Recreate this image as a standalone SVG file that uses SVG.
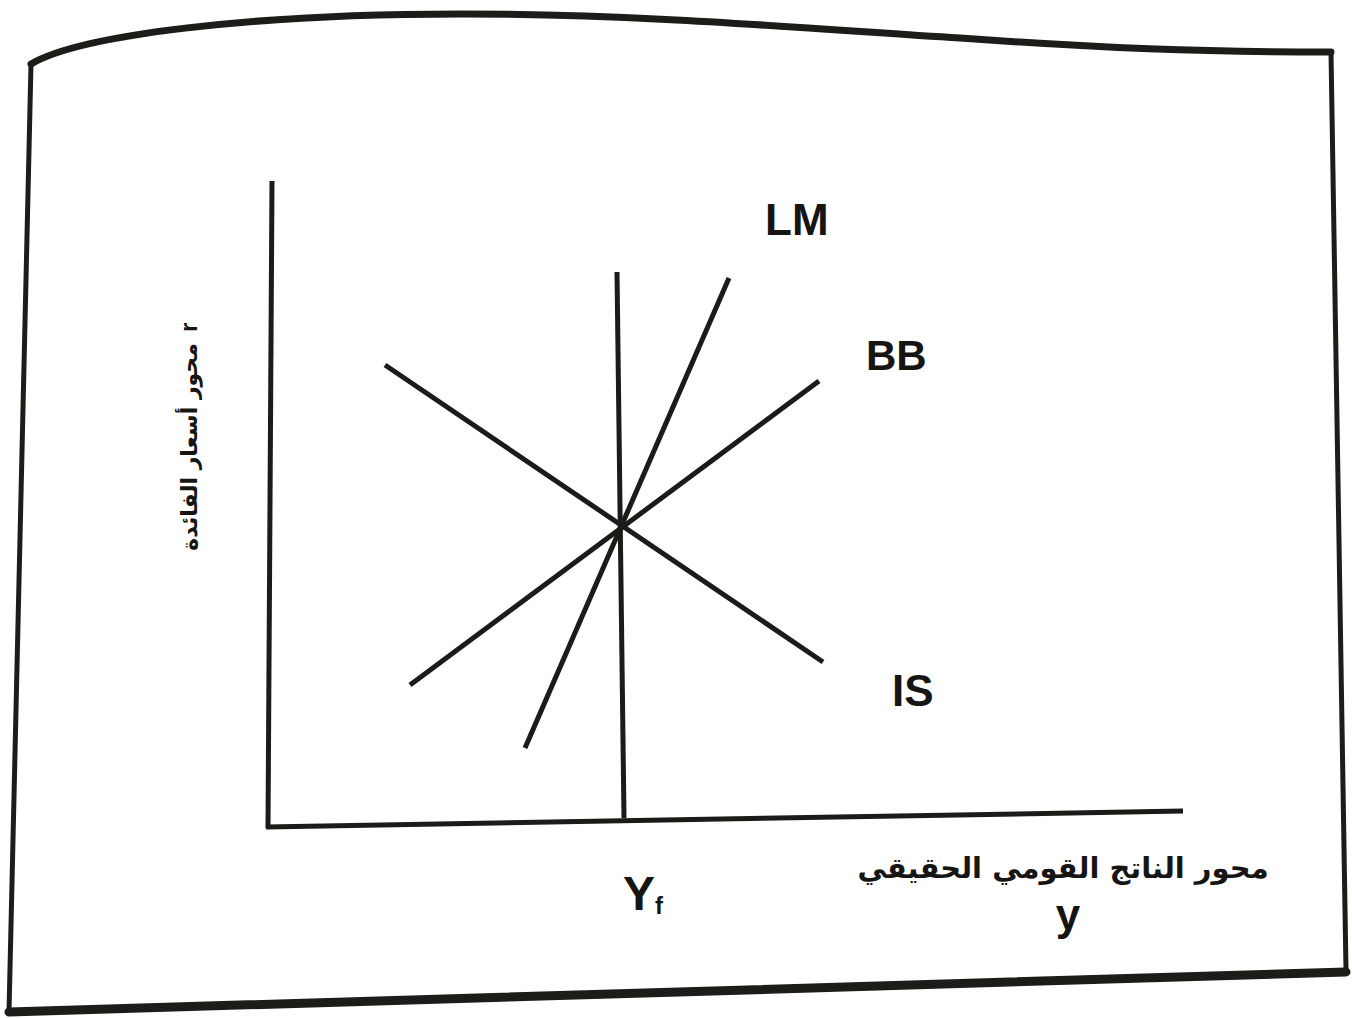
<svg xmlns="http://www.w3.org/2000/svg" width="1352" height="1018" viewBox="0 0 1352 1018">
<style>
.frame{fill:none;stroke:#1c1d18;stroke-linecap:round;stroke-linejoin:round}
.ln{stroke:#1c1b17;stroke-width:5;stroke-linecap:butt;fill:none}
.lbl{font-family:"Liberation Sans",Arial,sans-serif;font-weight:bold;fill:#161513}
.ar{font-family:"DejaVu Sans",sans-serif;font-weight:bold;fill:#161513}
</style>
<rect width="1352" height="1018" fill="#ffffff"/>
<g id="frame">
<path class="frame" stroke-width="7" d="M31,64 C80,35 250,14 460,14 C640,14 800,28 960,38 C1100,48 1200,52 1331,52"/>
<path class="frame" stroke-width="5" d="M31,64 L9,1012"/>
<path class="frame" stroke-width="5" d="M1331,52 L1346,970"/>
<path class="frame" stroke-width="9" d="M9,1012 L1346,972"/>
</g>
<g id="axes">
<line class="ln" x1="272" y1="181" x2="268" y2="828"/>
<line class="ln" x1="266" y1="827" x2="1183" y2="811"/>
</g>
<g id="connectors">
<line id="Yf-line" class="ln" x1="617" y1="272" x2="624" y2="818"/>
<line id="LM-line" class="ln" x1="525" y1="748" x2="729" y2="278"/>
<line id="BB-line" class="ln" x1="410" y1="685" x2="819" y2="381"/>
<line id="IS-line" class="ln" x1="385" y1="365" x2="823" y2="662"/>
</g>
<g id="LM"><text class="lbl" x="765" y="235" font-size="44">LM</text></g>
<g id="BB"><text class="lbl" x="866" y="370" font-size="42">BB</text></g>
<g id="IS"><text class="lbl" x="892" y="706" font-size="44">IS</text></g>
<g id="Yf"><text class="lbl" x="623" y="910" font-size="48">Y<tspan font-size="24" dy="4">f</tspan></text></g>
<g id="x-label">
<text class="ar" x="1063" y="878" font-size="29" text-anchor="middle" direction="rtl">محور الناتج القومي الحقيقي</text>
<text class="lbl" x="1068" y="930" font-size="44" text-anchor="middle">y</text>
</g>
<g id="y-label" transform="translate(197,548) rotate(-90)">
<text class="ar" x="101" y="0" font-size="22" text-anchor="middle" direction="rtl">محور أسعار الفائدة</text>
<text class="lbl" x="216" y="0" font-size="24">r</text>
</g>
</svg>
